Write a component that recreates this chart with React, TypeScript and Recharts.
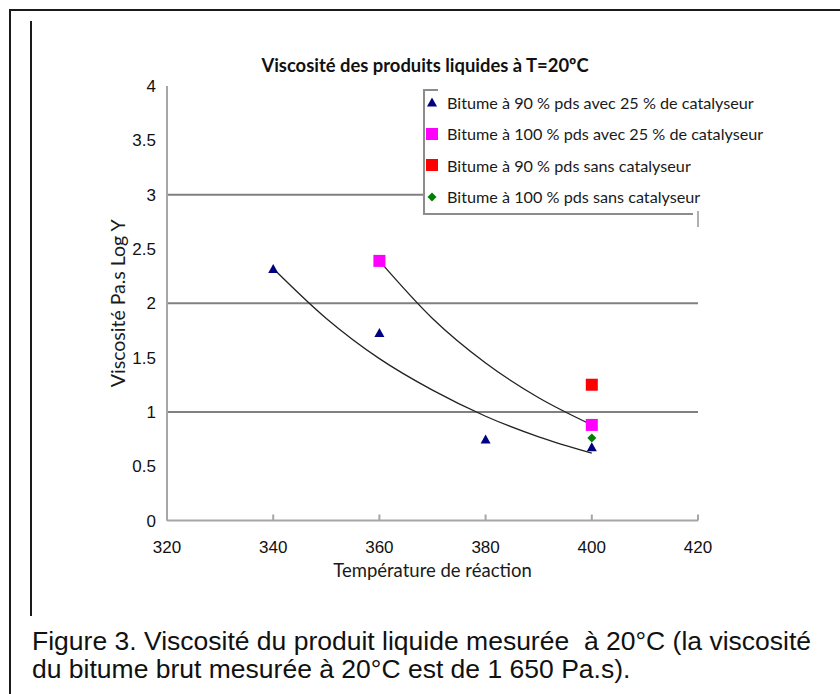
import React from "react";
import {
  ComposedChart,
  Scatter,
  Line,
  XAxis,
  YAxis,
  ReferenceLine,
  Legend,
} from "recharts";

// measured points
const temps90Cat = [340, 360, 380, 400];
const visc90Cat = [2.32, 1.73, 0.75, 0.68];
const temps100Cat = [360, 400];
const visc100Cat = [2.39, 0.88];
const temps90 = [400];
const visc90 = [1.25];
const temps100 = [400];
const visc100 = [0.76];

// trend curves
const trend1Temps = [340, 350, 360, 370, 380, 390, 400];
const trend1Visc = [2.32, 1.86, 1.49, 1.2, 0.96, 0.77, 0.62];
const trend2Temps = [360, 370, 380, 390, 400];
const trend2Visc = [2.39, 1.86, 1.45, 1.13, 0.88];

const xTicks = [320, 340, 360, 380, 400, 420];
const yTicks = [0, 0.5, 1, 1.5, 2, 2.5, 3, 3.5, 4];
const gridValues = [1, 2, 3];

const seriesNames = [
  "Bitume à 90 % pds avec 25 % de catalyseur",
  "Bitume à 100 % pds avec 25 % de catalyseur",
  "Bitume à 90 % pds sans catalyseur",
  "Bitume à 100 % pds sans catalyseur",
];
const seriesColors = ["#000080", "#ff00ff", "#ff0000", "#008000"];
const seriesShapes = ["triangle", "square", "square", "diamond"];

const toPoints = (xs: number[], ys: number[]) =>
  xs.map((t, i) => ({ temp: t, visc: ys[i] }));

const calibri = "Lato, 'Open Sans', sans-serif";
const arial = "'Liberation Sans', Arial, sans-serif";

const Marker = ({ cx, cy, kind, color }: any) => {
  if (kind === "triangle") {
    return (
      <polygon
        points={`${cx - 5},${cy + 4.5} ${cx + 5},${cy + 4.5} ${cx},${cy - 4.5}`}
        fill={color}
      />
    );
  }
  if (kind === "diamond") {
    return (
      <polygon
        points={`${cx},${cy - 4.5} ${cx + 4.5},${cy} ${cx},${cy + 4.5} ${cx - 4.5},${cy}`}
        fill={color}
      />
    );
  }
  return <rect x={cx - 6} y={cy - 6} width={12} height={12} fill={color} />;
};

const XTick = ({ x, y, payload }: any) => (
  <g>
    <line x1={x} x2={x} y1={y - 6} y2={y} stroke="#a6a6a6" strokeWidth={2} />
    <text
      x={x}
      y={y + 32}
      textAnchor="middle"
      fontFamily={arial}
      fontSize={17}
      fill="#111"
    >
      {payload.value}
    </text>
  </g>
);

const YTick = ({ x, y, payload }: any) => (
  <text
    x={x - 11}
    y={y + 6}
    textAnchor="end"
    fontFamily={arial}
    fontSize={17}
    fill="#111"
  >
    {payload.value}
  </text>
);

const LegendBox = () => (
  <div
    style={{
      position: "relative",
      width: 278,
      height: 126,
      background: "#fff",
      fontFamily: calibri,
      fontSize: 16.2,
      color: "#1a1a1a",
    }}
  >
    <div
      style={{
        position: "absolute",
        left: 0,
        top: 0,
        width: 2,
        height: 126,
        background: "#8c8c8c",
      }}
    />
    <div
      style={{
        position: "absolute",
        left: 0,
        top: 0,
        width: 15,
        height: 2,
        background: "#8c8c8c",
      }}
    />
    <div
      style={{
        position: "absolute",
        left: 0,
        top: 124,
        width: 270,
        height: 2,
        background: "#8c8c8c",
      }}
    />
    <div
      style={{
        position: "absolute",
        left: 274,
        top: 122,
        width: 2,
        height: 16,
        background: "#b0b0b0",
      }}
    />
    {seriesNames.map((name, i) => (
      <div
        key={name}
        style={{
          position: "absolute",
          left: 3,
          top: 2 + i * 31.5,
          height: 22,
          display: "flex",
          alignItems: "center",
          whiteSpace: "nowrap",
        }}
      >
        <svg width={12} height={12} style={{ marginRight: 9 }}>
          <Marker
            cx={6}
            cy={6}
            kind={seriesShapes[i]}
            color={seriesColors[i]}
          />
        </svg>
        <span>{name}</span>
      </div>
    ))}
  </div>
);

export default function App() {
  const seriesData = [
    toPoints(temps90Cat, visc90Cat),
    toPoints(temps100Cat, visc100Cat),
    toPoints(temps90, visc90),
    toPoints(temps100, visc100),
  ];

  return (
    <div
      style={{
        position: "absolute",
        left: 0,
        top: 0,
        width: 840,
        height: 694,
        background: "#fff",
        overflow: "hidden",
      }}
    >
      {/* frame lines */}
      <div
        style={{
          position: "absolute",
          left: 9,
          top: 9,
          width: 840,
          height: 700,
          borderLeft: "2px solid #1a1a1a",
          borderTop: "2px solid #1a1a1a",
        }}
      />
      <div
        style={{
          position: "absolute",
          left: 30,
          top: 21,
          width: 2,
          height: 595,
          background: "#1a1a1a",
        }}
      />

      <div
        style={{
          position: "absolute",
          left: 125,
          width: 600,
          top: 54,
          textAlign: "center",
          fontFamily: calibri,
          fontWeight: 700,
          fontSize: 18.4,
          color: "#111",
          whiteSpace: "nowrap",
        }}
      >
        Viscosité des produits liquides à T=20ºC
      </div>

      <div style={{ position: "absolute", left: 0, top: 0 }}>
        <ComposedChart
          width={840}
          height={600}
          margin={{ top: 86, right: 142, bottom: 39.5, left: 107 }}
        >
          <XAxis
            type="number"
            dataKey="temp"
            domain={[320, 420]}
            ticks={xTicks}
            interval={0}
            height={40}
            axisLine={{ stroke: "#a6a6a6", strokeWidth: 2 }}
            tickLine={false}
            tickSize={0}
            tickMargin={0}
            tick={<XTick />}
            allowDuplicatedCategory={false}
            label={{
              value: "Température de réaction",
              position: "bottom",
              offset: 3,
              style: {
                fontFamily: calibri,
                fontSize: 18.5,
                fill: "#1a1a1a",
              },
            }}
          />
          <YAxis
            type="number"
            dataKey="visc"
            domain={[0, 4]}
            ticks={yTicks}
            interval={0}
            width={60}
            axisLine={{ stroke: "#a6a6a6", strokeWidth: 2 }}
            tickLine={false}
            tickSize={0}
            tickMargin={0}
            tick={<YTick />}
            label={{
              value: "Viscosité Pa.s Log Y",
              angle: -90,
              position: "insideLeft",
              offset: 11,
              style: {
                textAnchor: "middle",
                fontFamily: calibri,
                fontSize: 19.5,
                fill: "#1a1a1a",
              },
            }}
          />
          {gridValues.map((v) => (
            <ReferenceLine
              key={v}
              y={v}
              stroke="#808080"
              strokeWidth={2}
              ifOverflow="visible"
            />
          ))}
          <Line
            data={toPoints(trend1Temps, trend1Visc)}
            dataKey="visc"
            type="monotone"
            stroke="#222"
            strokeWidth={1.3}
            dot={false}
            activeDot={false}
            isAnimationActive={false}
            legendType="none"
          />
          <Line
            data={toPoints(trend2Temps, trend2Visc)}
            dataKey="visc"
            type="monotone"
            stroke="#222"
            strokeWidth={1.3}
            dot={false}
            activeDot={false}
            isAnimationActive={false}
            legendType="none"
          />
          {seriesData.map((pts, i) => (
            <Scatter
              key={seriesNames[i]}
              name={seriesNames[i]}
              data={pts}
              dataKey="visc"
              fill={seriesColors[i]}
              isAnimationActive={false}
              shape={(p: any) => (
                <Marker
                  cx={p.cx}
                  cy={p.cy}
                  kind={seriesShapes[i]}
                  color={seriesColors[i]}
                />
              )}
            />
          ))}
          <Legend
            layout="vertical"
            align="center"
            verticalAlign="middle"
            content={() => <LegendBox />}
            wrapperStyle={{
              position: "absolute",
              left: 423,
              top: 89,
              width: 278,
              height: 126,
              margin: 0,
            }}
          />
        </ComposedChart>
      </div>

      <div
        style={{
          position: "absolute",
          left: 32,
          top: 627,
          fontFamily: arial,
          fontSize: 26.5,
          lineHeight: "28px",
          color: "#111",
          whiteSpace: "nowrap",
        }}
      >
        Figure 3. Viscosité du produit liquide mesurée&nbsp; à 20°C (la viscosité
        <br />
        du bitume brut mesurée à 20°C est de 1 650 Pa.s).
      </div>
    </div>
  );
}
